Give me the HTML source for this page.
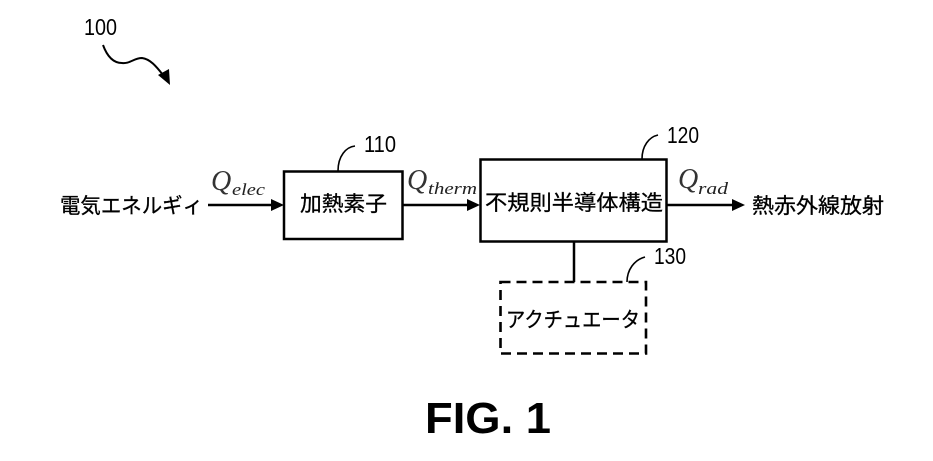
<!DOCTYPE html>
<html><head><meta charset="utf-8">
<style>
html,body{margin:0;padding:0;background:#fff;width:933px;height:461px;overflow:hidden}
svg{display:block}
.j{font-family:"Liberation Sans","Noto Sans CJK JP",sans-serif;font-size:21px;fill:#000;stroke:#000;stroke-width:.3px}
.n{font-family:"Liberation Sans",sans-serif;font-size:23px;fill:#000}
.q{font-family:"Liberation Serif",serif;font-style:italic;font-size:28px;fill:#333}
.s{font-family:"Liberation Serif",serif;font-style:italic;font-size:17px;fill:#222}
</style></head><body>
<svg width="933" height="461" viewBox="0 0 933 461" xmlns="http://www.w3.org/2000/svg">
<text class="n" x="84" y="35" textLength="33" lengthAdjust="spacingAndGlyphs">100</text>
<path d="M103 45C107 56 113 63 122 63C130 64 134 58 142 58C150 59 156 66 163 75" fill="none" stroke="#000" stroke-width="2"/>
<polygon points="170,85 158,75 169,69" fill="#000"/>

<rect x="284" y="171.5" width="118.5" height="67.5" fill="none" stroke="#000" stroke-width="2.5"/>
<rect x="480.5" y="159.5" width="186" height="82" fill="none" stroke="#000" stroke-width="2.5"/>
<rect x="500.5" y="282" width="145.5" height="71.5" fill="none" stroke="#000" stroke-width="2.6" stroke-dasharray="10 6"/>

<path d="M338 171C338 156 346 147 355 146" fill="none" stroke="#000" stroke-width="1.6"/>
<path d="M642 159C642 146 649 137 658 135" fill="none" stroke="#000" stroke-width="1.6"/>
<path d="M627 282C627 270 634 260 645 257" fill="none" stroke="#000" stroke-width="1.6"/>
<text class="n" x="364" y="152" textLength="32" lengthAdjust="spacingAndGlyphs">110</text>
<text class="n" x="667" y="143" textLength="32" lengthAdjust="spacingAndGlyphs">120</text>
<text class="n" x="654" y="264" textLength="32" lengthAdjust="spacingAndGlyphs">130</text>

<line x1="208" y1="205" x2="274" y2="205" stroke="#000" stroke-width="2.5"/>
<polygon points="284,205 271,199 271,211" fill="#000"/>
<line x1="403" y1="205" x2="470" y2="205" stroke="#000" stroke-width="2.5"/>
<polygon points="480,205 467,199 467,211" fill="#000"/>
<line x1="667" y1="205" x2="734" y2="205" stroke="#000" stroke-width="2.5"/>
<polygon points="745,205 732,199 732,211" fill="#000"/>
<line x1="574" y1="242" x2="574" y2="282" stroke="#000" stroke-width="2.5"/>

<text class="j" x="60" y="213" textLength="143" lengthAdjust="spacingAndGlyphs">電気エネルギィ</text>
<text class="j" x="300" y="211" textLength="87" lengthAdjust="spacingAndGlyphs">加熱素子</text>
<text class="j" x="485" y="210" textLength="178" lengthAdjust="spacingAndGlyphs">不規則半導体構造</text>
<text class="j" x="752" y="213" textLength="132" lengthAdjust="spacingAndGlyphs">熱赤外線放射</text>
<text class="j" x="506" y="327" textLength="134" lengthAdjust="spacingAndGlyphs">アクチュエータ</text>

<text class="q" x="211" y="190">Q</text><text class="s" x="232" y="195" textLength="33" lengthAdjust="spacingAndGlyphs">elec</text>
<text class="q" x="407" y="189">Q</text><text class="s" x="428" y="194" textLength="49" lengthAdjust="spacingAndGlyphs">therm</text>
<text class="q" x="678" y="188">Q</text><text class="s" x="698" y="194" textLength="30" lengthAdjust="spacingAndGlyphs">rad</text>

<text x="425" y="433" font-family="Liberation Sans, sans-serif" font-weight="bold" font-size="44" fill="#000" textLength="126" lengthAdjust="spacingAndGlyphs">FIG. 1</text>
</svg>
</body></html>
